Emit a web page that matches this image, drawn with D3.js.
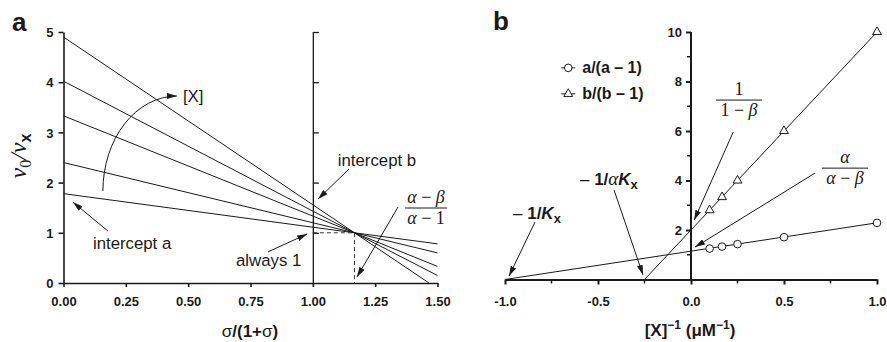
<!DOCTYPE html>
<html><head><meta charset="utf-8">
<script src="https://cdn.jsdelivr.net/npm/d3@7"></script>
<style>body{margin:0;background:#fff}svg{display:block}</style>
</head><body>
<svg id="c" width="887" height="342"></svg>
<script>
// ---------- Panel a data ----------
const aIntercepts = [1.78, 2.40, 3.33, 4.02, 4.90];
const aEndX = [1.5, 1.5, 1.5, 1.5, 1.466];
const aEndY = [0.78, 0.60, 0.33, 0.15, 0];
const crossX = 1.167, crossY = 1;
const aXTicks = [0, 0.25, 0.5, 0.75, 1, 1.25, 1.5];
const aYTicks = [0, 1, 2, 3, 4, 5];
const aRightTicks = [1, 2, 3, 4, 5];
// ---------- Panel b data ----------
const invX = [0.1, 0.167, 0.25, 0.5, 1.0];
const aRatio = [1.25, 1.33, 1.43, 1.71, 2.29];
const bRatio = [2.80, 3.33, 4.00, 6.00, 10.0];
const aFitX = [-1, 1], aFitY = [0, 2.29];
const bFitX = [-0.25, 1], bFitY = [0, 10];
const bXTicks = [-1, -0.5, 0, 0.5, 1];
const bXMinor = [-0.75, -0.25, 0.25, 0.75];
const bYTicks = [2, 4, 6, 8, 10];
const bYMinor = [1, 3, 5, 7, 9];

const sans = "'Liberation Sans', Arial, sans-serif";
const serif = "'Liberation Serif', 'Times New Roman', serif";
const ink = "#1a1a1a";

const svg = d3.select("#c");
const defs = svg.append("defs");
defs.append("marker").attr("id", "ah").attr("viewBox", "0 0 10 6")
  .attr("refX", 10).attr("refY", 3).attr("markerWidth", 10).attr("markerHeight", 6)
  .attr("markerUnits", "userSpaceOnUse").attr("orient", "auto")
  .append("path").attr("d", "M0,0 L10,3 L0,6 Z").attr("fill", ink);

// ---------- scales ----------
const xA = d3.scaleLinear([0, 1.5], [63.5, 437.5]);
const yA = d3.scaleLinear([0, 5], [283, 32]);
const xB = d3.scaleLinear([-1, 1], [505, 877]);
const yB = d3.scaleLinear([0, 10], [279.5, 32]);

function styleAxis(g, w) {
  g.selectAll("path.domain").attr("stroke", ink).attr("stroke-width", w);
  g.selectAll(".tick line").attr("stroke", ink).attr("stroke-width", w);
  g.selectAll(".tick text").attr("fill", ink).attr("font-family", sans)
    .attr("font-weight", "bold").attr("font-size", 13);
}

// ================= Panel a =================
const gA = svg.append("g");
const fmt2 = d3.format(".2f");
const axAx = gA.append("g").attr("transform", `translate(0,${yA(0)})`)
  .call(d3.axisBottom(xA).tickValues(aXTicks).tickFormat(fmt2).tickSize(4).tickSizeOuter(0).tickPadding(9.7));
styleAxis(axAx, 1.6);
const axAy = gA.append("g").attr("transform", `translate(${xA(0)},0)`)
  .call(d3.axisLeft(yA).tickValues(aYTicks).tickFormat(d3.format("d")).tickSize(5).tickSizeOuter(0).tickPadding(5));
styleAxis(axAy, 1.6);
axAy.selectAll(".tick text").attr("dy", "0.36em");
// inner vertical axis at x = 1
const axAr = gA.append("g").attr("transform", `translate(${xA(1)},0)`)
  .call(d3.axisRight(yA).tickValues(aRightTicks).tickFormat("").tickSize(6).tickSizeOuter(0));
styleAxis(axAr, 1.3);

// lines
const lineGen = (sx, sy) => d3.line().x(d => sx(d[0])).y(d => sy(d[1]));
const aLines = aIntercepts.map((a, i) => [[0, a], [crossX, crossY], [aEndX[i], aEndY[i]]]);
gA.selectAll("path.aline").data(aLines).join("path").attr("class", "aline")
  .attr("d", lineGen(xA, yA)).attr("fill", "none").attr("stroke", ink).attr("stroke-width", 1);

// dashed guides
gA.append("path").attr("d", lineGen(xA, yA)([[1, crossY], [crossX, crossY], [crossX, 0]]))
  .attr("fill", "none").attr("stroke", "#333").attr("stroke-width", 1).attr("stroke-dasharray", "4,3");

function arrow(g, sx, sy, p0, p1) {
  g.append("line").attr("x1", sx(p0[0])).attr("y1", sy(p0[1])).attr("x2", sx(p1[0])).attr("y2", sy(p1[1]))
    .attr("stroke", ink).attr("stroke-width", 1).attr("marker-end", "url(#ah)");
}
function label(g, x, y, txt, size, opts = {}) {
  return g.append("text").attr("x", x).attr("y", y).text(txt)
    .attr("font-family", opts.family || sans).attr("font-size", size)
    .attr("font-weight", opts.weight || "normal").attr("font-style", opts.style || "normal")
    .attr("text-anchor", opts.anchor || "start").attr("fill", ink);
}
function fraction(g, cx, by, halfW, num, den, size) {
  g.append("line").attr("x1", cx - halfW).attr("x2", cx + halfW).attr("y1", by).attr("y2", by)
    .attr("stroke", ink).attr("stroke-width", 1);
  [[num, by - 5], [den, by + 16]].forEach(([parts, y]) => {
    const t = g.append("text").attr("x", cx).attr("y", y).attr("text-anchor", "middle")
      .attr("font-family", serif).attr("font-size", size).attr("fill", ink);
    parts.forEach(p => t.append("tspan").text(p[0]).attr("font-style", p[1] ? "italic" : "normal"));
  });
}

// annotations (data coordinates)
arrow(gA, xA, yA, [0.178, 1.036], [0.038, 1.61]);
label(gA, xA(0.118), yA(0.68), "intercept a", 16.8);
arrow(gA, xA, yA, [1.145, 2.27], [1.021, 1.673]);
label(gA, xA(1.10), yA(2.33), "intercept b", 16.8);
arrow(gA, xA, yA, [0.82, 0.62], [0.977, 0.976]);
label(gA, xA(0.692), yA(0.34), "always 1", 16.8);
arrow(gA, xA, yA, [1.342, 1.514], [1.177, 0.12]);
fraction(gA, xA(1.454), yA(1.494), 21, [["α", 1], [" − ", 0], ["β", 1]], [["α", 1], [" − 1", 0]], 18);

// curved [X] arrow: quarter ellipse
{
  const p0 = [xA(0.158), yA(1.833)], p1 = [xA(0.455), yA(3.725)];
  const rx = p1[0] - p0[0], ry = p0[1] - p1[1];
  gA.append("path").attr("d", `M${p0[0]},${p0[1]} A${rx},${ry} 0 0,1 ${p1[0]},${p1[1]}`)
    .attr("fill", "none").attr("stroke", ink).attr("stroke-width", 1).attr("marker-end", "url(#ah)");
  label(gA, xA(0.479), yA(3.6), "[X]", 16.8);
}

// panel letter
label(svg, 12, 31, "a", 26, { weight: "bold" });

// y label a
{
  const t = svg.append("text").attr("transform", "translate(26,156) rotate(-90)")
    .attr("text-anchor", "middle").attr("fill", ink).attr("font-family", serif).attr("font-size", 24);
  t.append("tspan").text("v").attr("font-style", "italic");
  t.append("tspan").text("0").attr("font-size", 16).attr("dy", 5);
  t.append("tspan").text("/").attr("font-style", "italic").attr("dy", -5);
  t.append("tspan").text("v").attr("font-style", "italic");
  t.append("tspan").text("x").attr("font-size", 16).attr("font-family", sans).attr("font-weight", "bold").attr("dy", 5);
}
// x label a
{
  const t = svg.append("text").attr("x", 250).attr("y", 337).attr("text-anchor", "middle")
    .attr("font-family", sans).attr("font-size", 17).attr("font-weight", "bold").attr("fill", ink);
  t.append("tspan").text("σ").attr("font-weight", "normal");
  t.append("tspan").text("/(1+");
  t.append("tspan").text("σ").attr("font-weight", "normal");
  t.append("tspan").text(")");
}

// ================= Panel b =================
const gB = svg.append("g");
const axBx = gB.append("g").attr("transform", `translate(0,${yB(0)})`)
  .call(d3.axisBottom(xB).tickValues(bXTicks).tickFormat(d3.format(".1f")).tickSize(5).tickSizeOuter(0).tickPadding(12.2));
styleAxis(axBx, 2);
axBx.selectAll(".tick text").text(d => d3.format(".1f")(d).replace("−", "-"));
gB.selectAll("line.bxm").data(bXMinor).join("line").attr("class", "bxm")
  .attr("x1", d => xB(d)).attr("x2", d => xB(d)).attr("y1", yB(0)).attr("y2", yB(0) + 4)
  .attr("stroke", ink).attr("stroke-width", 1.5);
const axBy = gB.append("g").attr("transform", `translate(${xB(0)},0)`)
  .call(d3.axisLeft(yB).tickValues(bYTicks).tickFormat(d3.format("d")).tickSize(5).tickSizeOuter(0).tickPadding(4));
styleAxis(axBy, 2);
axBy.select("path.domain").attr("d", `M0,${yB(0)}V${yB(10)}`);
gB.selectAll("line.bym").data(bYMinor).join("line").attr("class", "bym")
  .attr("x1", xB(0) - 4).attr("x2", xB(0)).attr("y1", d => yB(d)).attr("y2", d => yB(d))
  .attr("stroke", ink).attr("stroke-width", 1.5);

// fit lines
gB.append("path").attr("d", lineGen(xB, yB)(d3.zip(aFitX, aFitY)))
  .attr("fill", "none").attr("stroke", ink).attr("stroke-width", 1);
gB.append("path").attr("d", lineGen(xB, yB)(d3.zip(bFitX, bFitY)))
  .attr("fill", "none").attr("stroke", ink).attr("stroke-width", 1);

// markers
gB.selectAll("circle.pa").data(d3.zip(invX, aRatio)).join("circle").attr("class", "pa")
  .attr("cx", d => xB(d[0])).attr("cy", d => yB(d[1])).attr("r", 3.8)
  .attr("fill", "#fff").attr("stroke", ink).attr("stroke-width", 1);
const tri = d3.symbol().type(d3.symbolTriangle).size(34);
gB.selectAll("path.pb").data(d3.zip(invX, bRatio)).join("path").attr("class", "pb")
  .attr("transform", d => `translate(${xB(d[0])},${yB(d[1])})`).attr("d", tri)
  .attr("fill", "#fff").attr("stroke", ink).attr("stroke-width", 1);

// legend
{
  const lx = -0.66, items = [[8.55, "circle", "a/(a – 1)"], [7.5, "tri", "b/(b – 1)"]];
  items.forEach(([ly, kind, txt]) => {
    const cx = xB(lx), cy = yB(ly);
    gB.append("line").attr("x1", cx - 7).attr("x2", cx + 7).attr("y1", cy).attr("y2", cy)
      .attr("stroke", ink).attr("stroke-width", 1);
    if (kind === "circle")
      gB.append("circle").attr("cx", cx).attr("cy", cy).attr("r", 3.8).attr("fill", "#fff").attr("stroke", ink);
    else
      gB.append("path").attr("transform", `translate(${cx},${cy})`).attr("d", tri).attr("fill", "#fff").attr("stroke", ink);
    label(gB, cx + 14, cy + 5.5, txt, 16, { weight: "bold" });
  });
}

// annotations
arrow(gB, xB, yB, [-0.839, 2.32], [-0.978, 0.14]);
{
  const t = gB.append("text").attr("x", xB(-0.957)).attr("y", yB(2.46)).attr("fill", ink)
    .attr("font-family", sans).attr("font-size", 17);
  t.append("tspan").text("– ");
  t.append("tspan").text("1/").attr("font-weight", "bold");
  t.append("tspan").text("K").attr("font-weight", "bold").attr("font-style", "italic");
  t.append("tspan").text("x").attr("font-weight", "bold").attr("font-size", 13).attr("dy", 4);
}
arrow(gB, xB, yB, [-0.414, 3.62], [-0.258, 0.18]);
{
  const t = gB.append("text").attr("x", xB(-0.597)).attr("y", yB(3.8)).attr("fill", ink)
    .attr("font-family", sans).attr("font-size", 17);
  t.append("tspan").text("– ");
  t.append("tspan").text("1/").attr("font-weight", "bold");
  t.append("tspan").text("α").attr("font-family", serif).attr("font-style", "italic").attr("font-size", 19);
  t.append("tspan").text("K").attr("font-weight", "bold").attr("font-style", "italic");
  t.append("tspan").text("x").attr("font-weight", "bold").attr("font-size", 13).attr("dy", 4);
}
arrow(gB, xB, yB, [0.227, 5.96], [0.017, 2.40]);
fraction(gB, xB(0.258), yB(7.25), 23, [["1", 0]], [["1 − ", 0], ["β", 1]], 18);
arrow(gB, xB, yB, [0.667, 4.3], [0.022, 1.31]);
fraction(gB, xB(0.828), yB(4.5), 23, [["α", 1]], [["α", 1], [" − ", 0], ["β", 1]], 18);

label(svg, 493, 30, "b", 26, { weight: "bold" });

// x label b
{
  const t = svg.append("text").attr("x", 690).attr("y", 336).attr("text-anchor", "middle")
    .attr("font-family", sans).attr("font-size", 17).attr("font-weight", "bold").attr("fill", ink);
  t.append("tspan").text("[X]");
  t.append("tspan").text("−1").attr("font-size", 12).attr("dy", -7);
  t.append("tspan").text(" (μM").attr("dy", 7);
  t.append("tspan").text("−1").attr("font-size", 12).attr("dy", -7);
  t.append("tspan").text(")").attr("dy", 7);
}
</script>
</body></html>
